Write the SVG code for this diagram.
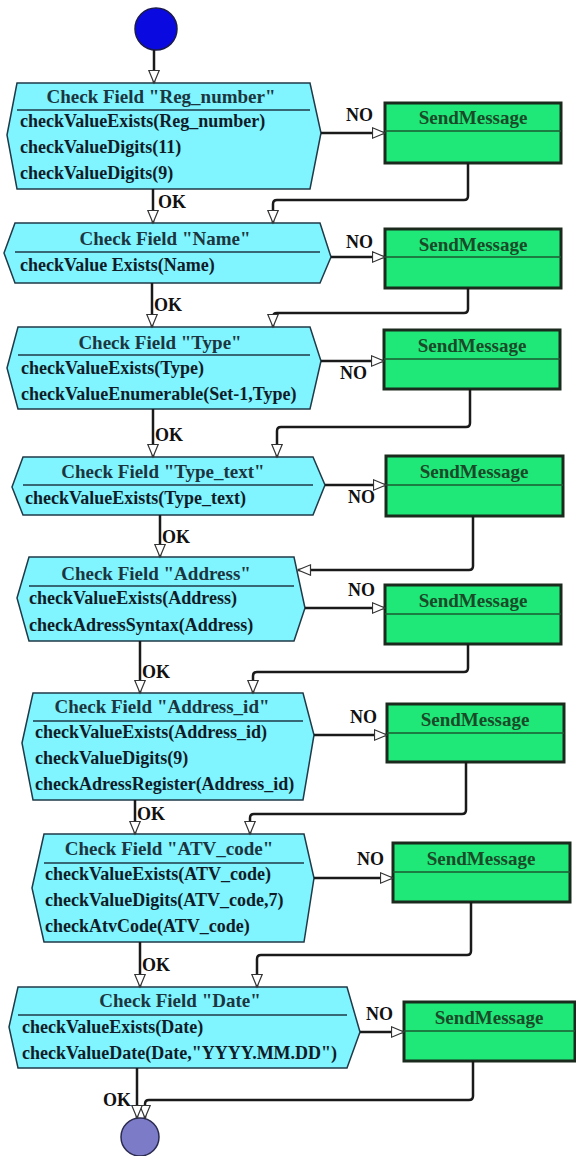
<svg xmlns="http://www.w3.org/2000/svg" width="576" height="1156" viewBox="0 0 576 1156">
<style>
text{font-family:"Liberation Serif","Times New Roman",serif;font-weight:bold}
.hex{fill:#80F4FF;stroke:#1f3a48;stroke-width:1.5}
.sep{stroke:#1f3a48;stroke-width:1.5}
.title{font-size:19px;fill:#1b3640;text-anchor:middle}
.item{font-size:18px;fill:#101c28}
.box{fill:#1FE878;stroke:#1a2a1c;stroke-width:3}
.bsep{stroke:#1d5a30;stroke-width:1.5}
.btext{font-size:19px;fill:#1a4a28;text-anchor:middle}
.lbl{font-size:18px;fill:#111}
.conn{fill:none;stroke:#1a1a1a;stroke-width:2.5;marker-end:url(#arr)}
</style>
<defs>
<marker id="arr" markerUnits="userSpaceOnUse" markerWidth="15" markerHeight="13" refX="13.5" refY="6" orient="auto">
<path d="M1,0.8 L13.5,6 L1,11.2 Z" fill="#fff" stroke="#333" stroke-width="1.2"/>
</marker>
</defs>

<g id="start"><circle cx="156" cy="29" r="21" fill="#0a0ae0" stroke="#1a1a50" stroke-width="1.5"/></g>

<g id="n1">
<polygon class="hex" points="7,135 17,83 310,83 321,133 310,189 17,189"/>
<text class="title" x="161" y="103">Check Field "Reg_number"</text>
<line class="sep" x1="17" y1="110" x2="310" y2="110"/>
<text class="item" x="20" y="127">checkValueExists(Reg_number)</text>
<text class="item" x="20" y="153">checkValueDigits(11)</text>
<text class="item" x="20" y="179">checkValueDigits(9)</text>
</g>
<g id="m1"><rect class="box" x="385" y="103" width="176" height="60"/><line class="bsep" x1="385" y1="131" x2="561" y2="131"/><text class="btext" x="473" y="124">SendMessage</text></g>

<g id="n2">
<polygon class="hex" points="4,253 15,223 320,223 331,257 320,283 15,283"/>
<text class="title" x="165" y="245">Check Field "Name"</text>
<line class="sep" x1="15" y1="252" x2="320" y2="252"/>
<text class="item" x="20" y="271">checkValue Exists(Name)</text>
</g>
<g id="m2"><rect class="box" x="385" y="229" width="176" height="59"/><line class="bsep" x1="385" y1="257" x2="561" y2="257"/><text class="btext" x="473" y="251">SendMessage</text></g>

<g id="n3">
<polygon class="hex" points="7,368 18,327 310,327 321,361 310,409 18,409"/>
<text class="title" x="160" y="349">Check Field "Type"</text>
<line class="sep" x1="18" y1="355" x2="310" y2="355"/>
<text class="item" x="21" y="374">checkValueExists(Type)</text>
<text class="item" x="21" y="400">checkValueEnumerable(Set-1,Type)</text>
</g>
<g id="m3"><rect class="box" x="384" y="330" width="176" height="59"/><line class="bsep" x1="384" y1="359" x2="560" y2="359"/><text class="btext" x="472" y="352">SendMessage</text></g>

<g id="n4">
<polygon class="hex" points="12,487 23,457 313,457 325,485 313,515 23,515"/>
<text class="title" x="163" y="478">Check Field "Type_text"</text>
<line class="sep" x1="23" y1="485" x2="313" y2="485"/>
<text class="item" x="25" y="504">checkValueExists(Type_text)</text>
</g>
<g id="m4"><rect class="box" x="386" y="456" width="177" height="60"/><line class="bsep" x1="386" y1="485" x2="563" y2="485"/><text class="btext" x="474" y="478">SendMessage</text></g>

<g id="n5">
<polygon class="hex" points="17,598 29,557 294,557 305,608 294,641 29,641"/>
<text class="title" x="156" y="580">Check Field "Address"</text>
<line class="sep" x1="29" y1="586" x2="294" y2="586"/>
<text class="item" x="29" y="604">checkValueExists(Address)</text>
<text class="item" x="29" y="631">checkAdressSyntax(Address)</text>
</g>
<g id="m5"><rect class="box" x="385" y="585" width="176" height="59"/><line class="bsep" x1="385" y1="614" x2="561" y2="614"/><text class="btext" x="473" y="607">SendMessage</text></g>

<g id="n6">
<polygon class="hex" points="22,743 33,693 303,693 314,735 303,800 33,800"/>
<text class="title" x="162" y="713">Check Field "Address_id"</text>
<line class="sep" x1="33" y1="721" x2="303" y2="721"/>
<text class="item" x="35" y="738">checkValueExists(Address_id)</text>
<text class="item" x="35" y="764">checkValueDigits(9)</text>
<text class="item" x="35" y="790">checkAdressRegister(Address_id)</text>
</g>
<g id="m6"><rect class="box" x="387" y="704" width="177" height="58"/><line class="bsep" x1="387" y1="733" x2="564" y2="733"/><text class="btext" x="475" y="726">SendMessage</text></g>

<g id="n7">
<polygon class="hex" points="32,888 44,834 304,834 314,878 304,942 44,942"/>
<text class="title" x="169" y="855">Check Field "ATV_code"</text>
<line class="sep" x1="44" y1="863" x2="304" y2="863"/>
<text class="item" x="45" y="880">checkValueExists(ATV_code)</text>
<text class="item" x="45" y="906">checkValueDigits(ATV_code,7)</text>
<text class="item" x="45" y="932">checkAtvCode(ATV_code)</text>
</g>
<g id="m7"><rect class="box" x="393" y="843" width="177" height="59"/><line class="bsep" x1="393" y1="872" x2="570" y2="872"/><text class="btext" x="481" y="865">SendMessage</text></g>

<g id="n8">
<polygon class="hex" points="9,1027 18,987 347,987 360,1032 347,1068 18,1068"/>
<text class="title" x="180" y="1007">Check Field "Date"</text>
<line class="sep" x1="18" y1="1015" x2="347" y2="1015"/>
<text class="item" x="22" y="1033">checkValueExists(Date)</text>
<text class="item" x="22" y="1059">checkValueDate(Date,"YYYY.MM.DD")</text>
</g>
<g id="m8"><rect class="box" x="404" y="1002" width="171" height="59"/><line class="bsep" x1="404" y1="1031" x2="575" y2="1031"/><text class="btext" x="489" y="1024">SendMessage</text></g>

<g id="end"><circle cx="140" cy="1137" r="19" fill="#7b7bc8" stroke="#2a2a50" stroke-width="1.5"/></g>

<g id="connectors">
<path class="conn" d="M154,50 V83"/>
<path class="conn" d="M321,133 H385"/>
<path class="conn" d="M468,163 V196 Q468,200 464,200 H277 Q273,200 273,204 V223"/>
<path class="conn" d="M153,189 V223"/>
<path class="conn" d="M331,257 H385"/>
<path class="conn" d="M468,288 V309 Q468,313 464,313 H277 Q273,313 273,317 V327"/>
<path class="conn" d="M152,283 V327"/>
<path class="conn" d="M321,361 H384"/>
<path class="conn" d="M470,389 V423 Q470,427 466,427 H281 Q277,427 277,431 V457"/>
<path class="conn" d="M153,409 V457"/>
<path class="conn" d="M325,485 H386"/>
<path class="conn" d="M473,516 V566 Q473,570 469,570 H298"/>
<path class="conn" d="M160,515 V557"/>
<path class="conn" d="M305,608 H385"/>
<path class="conn" d="M468,644 V668 Q468,672 464,672 H257 Q253,672 253,676 V693"/>
<path class="conn" d="M140,641 V693"/>
<path class="conn" d="M314,735 H387"/>
<path class="conn" d="M466,762 V810 Q466,814 462,814 H254 Q250,814 250,818 V834"/>
<path class="conn" d="M135,800 V834"/>
<path class="conn" d="M314,878 H393"/>
<path class="conn" d="M471,902 V951 Q471,955 467,955 H261 Q257,955 257,959 V987"/>
<path class="conn" d="M140,942 V987"/>
<path class="conn" d="M360,1032 H404"/>
<path class="conn" d="M473,1061 V1096 Q473,1100 469,1100 H149 Q145,1100 145,1104 V1118"/>
<path class="conn" d="M137,1068 V1118"/>
<text class="lbl" x="346" y="121">NO</text>
<text class="lbl" x="158" y="208">OK</text>
<text class="lbl" x="346" y="248">NO</text>
<text class="lbl" x="154" y="311">OK</text>
<text class="lbl" x="340" y="379">NO</text>
<text class="lbl" x="155" y="441">OK</text>
<text class="lbl" x="348" y="503">NO</text>
<text class="lbl" x="162" y="543">OK</text>
<text class="lbl" x="348" y="596">NO</text>
<text class="lbl" x="142" y="678">OK</text>
<text class="lbl" x="350" y="723">NO</text>
<text class="lbl" x="137" y="820">OK</text>
<text class="lbl" x="357" y="865">NO</text>
<text class="lbl" x="142" y="971">OK</text>
<text class="lbl" x="366" y="1020">NO</text>
<text class="lbl" x="103" y="1106">OK</text>
</g>
</svg>
